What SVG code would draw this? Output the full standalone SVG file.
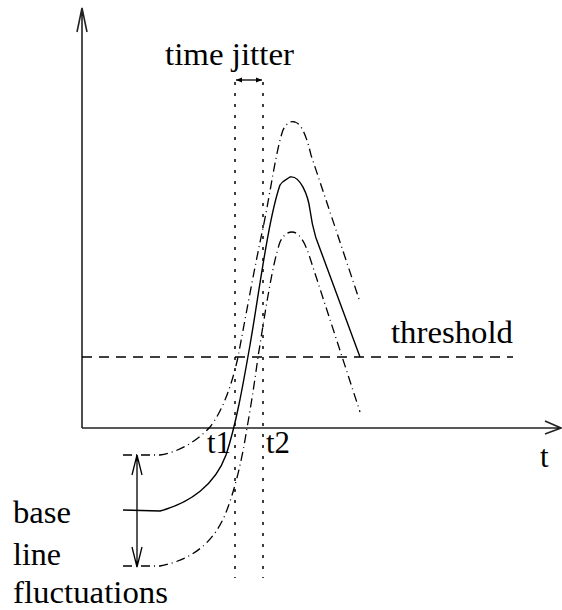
<svg xmlns="http://www.w3.org/2000/svg" width="562" height="610" viewBox="0 0 562 610">
<style>
.axis{stroke:#222;stroke-width:1.6;fill:none}
.sig{stroke:#000;stroke-width:1.4;fill:none}
.dd{stroke:#000;stroke-width:1.3;fill:none;stroke-dasharray:9,4,1,4}
.dot{stroke:#000;stroke-width:1.5;fill:none;stroke-dasharray:3,8}
.thr{stroke:#000;stroke-width:1.3;fill:none;stroke-dasharray:10,7}
.arr{stroke:#000;stroke-width:1.3;fill:none}
</style>
<defs>
<marker id="ah" viewBox="0 0 10 10" refX="10" refY="5" markerWidth="6" markerHeight="6" orient="auto-start-reverse" markerUnits="userSpaceOnUse">
<path d="M0,1 L10,5 L0,9 Z" fill="#000"/>
</marker>
</defs>
<rect width="562" height="610" fill="#fff"/>
<g id="axes">
<path class="axis" d="M82,428 L82,8 M77,32 L82,8 L87,32"/>
<path class="axis" d="M82,428 L561,428 M545,421 L561,428 L545,434"/>
</g>
<g font-family="Liberation Serif, Times New Roman, serif" font-size="31" fill="#000">
<g id="threshold">
<path class="thr" d="M82,357 L513,357"/>
<text x="391" y="343" textLength="122" lengthAdjust="spacingAndGlyphs">threshold</text>
</g>
<g id="jitter">
<path class="dot" d="M235,82 L235,578"/>
<path class="dot" d="M263,82 L263,578"/>
<path class="arr" d="M236,80 L262,80" marker-start="url(#ah)" marker-end="url(#ah)"/>
<text x="165" y="65" textLength="129" lengthAdjust="spacingAndGlyphs">time jitter</text>
</g>
<g id="signals">
<path class="sig" d="M123,510 L160,511 C190,503 215,485 226,455 C236,425 243,385 250,345 C258,300 268,220 280,185 C283,180 286,180 290,177 C300,175 308,195 310,210 C312,225 313,228 316,238 L360,357"/>
<path class="dd" d="M123,455 L160,455 C180,452 198,440 210,427 C222,412 232,385 238,357 C245,320 255,265 263,228 C270,195 276,150 283,130 C287,122 291,121 295,122 C302,124 307,138 311,155 L360,302"/>
<path class="dd" d="M123,566 L160,566 C190,560 212,545 225,515 C235,490 242,460 247,428 C252,400 256,372 258,357 C264,320 272,265 280,242 C284,234 288,232 292,232 C300,232 306,245 310,258 L360,412"/>
</g>
<g id="baseline-arrow">
<path class="arr" d="M137,455 L137,567 M132,475 L137,455 L142,475 M132,547 L137,567 L142,547"/>
</g>
<g id="labels">
<text x="540" y="467">t</text>
<text x="207" y="453" textLength="24" lengthAdjust="spacingAndGlyphs">t1</text>
<text x="266" y="453" textLength="24" lengthAdjust="spacingAndGlyphs">t2</text>
<text x="13" y="523" textLength="58" lengthAdjust="spacingAndGlyphs">base</text>
<text x="13" y="565" textLength="48" lengthAdjust="spacingAndGlyphs">line</text>
<text x="13" y="603" textLength="155" lengthAdjust="spacingAndGlyphs">fluctuations</text>
</g>
</g>
</svg>
